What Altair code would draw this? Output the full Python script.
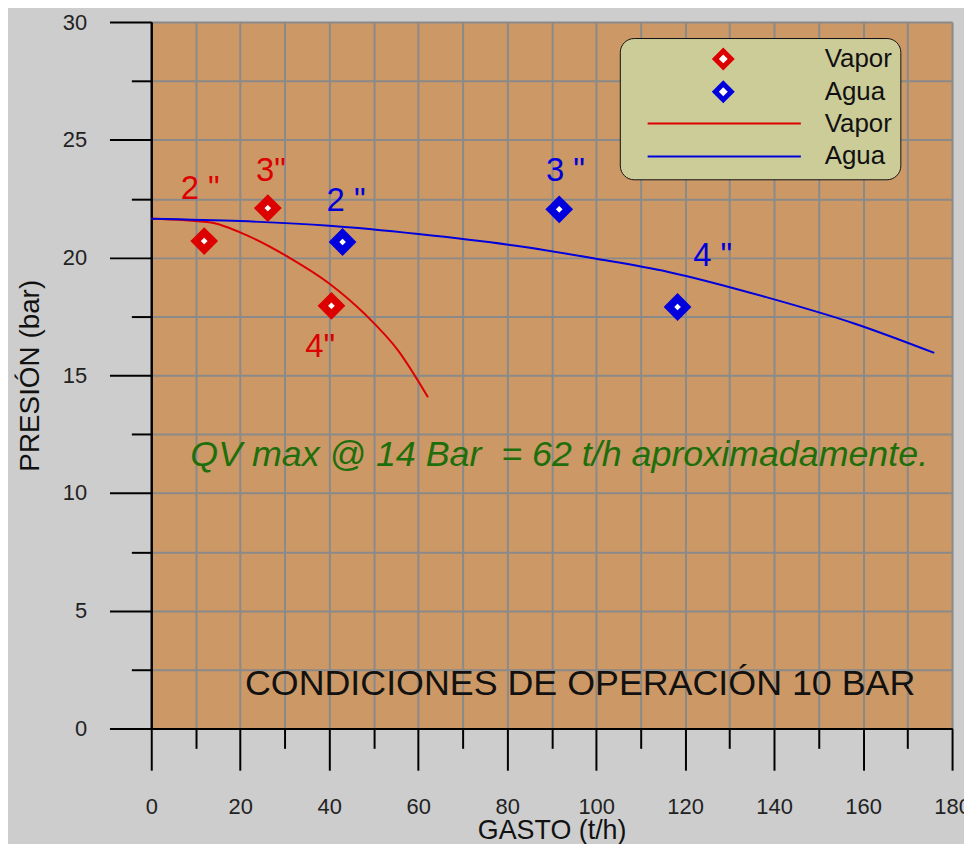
import altair as alt
import pandas as pd

# ---- data ----
vapor_curve_q = [0, 13, 22, 31, 40, 48, 55.5, 62.2]
vapor_curve_p = [21.65, 21.5, 20.9, 20.0, 18.9, 17.6, 16.05, 14.07]
agua_curve_q = [0, 20, 40, 60, 82, 100, 116, 138, 158, 176]
agua_curve_p = [21.65, 21.55, 21.35, 21.0, 20.5, 19.95, 19.4, 18.33, 17.2, 15.95]

vapor_pts_q = [11.9, 26.2, 40.5]
vapor_pts_p = [20.7, 22.1, 17.95]
agua_pts_q = [43.0, 91.7, 118.3]
agua_pts_p = [20.66, 22.05, 17.9]

vapor_lab_txt = ['2 "', '3"', '4"']
vapor_lab_q = [11.0, 26.9, 38.0]
vapor_lab_p = [22.9, 23.66, 16.18]
agua_lab_txt = ['2 "', '3 "', '4 "']
agua_lab_q = [43.8, 93.1, 126.2]
agua_lab_p = [22.39, 23.66, 20.07]

note_txt = ["QV max @ 14 Bar \u00a0= 62 t/h aproximadamente."]
note_q = [91.7]
note_p = [11.6]
cond_txt = ["CONDICIONES DE OPERACIÓN 10 BAR"]
cond_q = [96.4]
cond_p = [1.9]

x_major_ticks = list(range(0, 181, 20))
x_minor_ticks = list(range(10, 180, 20))
y_major_ticks = [0, 5, 10, 15, 20, 25, 30]
y_minor_ticks = [2.5, 7.5, 12.5, 17.5, 22.5, 27.5]

pts_domain = ["Vapor_pts", "Agua_pts"]
line_domain = ["Vapor_line", "Agua_line"]

# ---- tables ----
lines_df = pd.DataFrame({
    "Q": vapor_curve_q + agua_curve_q,
    "P": vapor_curve_p + agua_curve_p,
    "serie": ["Vapor_line"] * len(vapor_curve_q) + ["Agua_line"] * len(agua_curve_q),
})
pts_df = pd.DataFrame({
    "Q": vapor_pts_q + agua_pts_q,
    "P": vapor_pts_p + agua_pts_p,
    "serie": ["Vapor_pts"] * len(vapor_pts_q) + ["Agua_pts"] * len(agua_pts_q),
})
vlab_df = pd.DataFrame({"Q": vapor_lab_q, "P": vapor_lab_p, "txt": vapor_lab_txt})
alab_df = pd.DataFrame({"Q": agua_lab_q, "P": agua_lab_p, "txt": agua_lab_txt})
note_df = pd.DataFrame({"Q": note_q, "P": note_p, "txt": note_txt})
cond_df = pd.DataFrame({"Q": cond_q, "P": cond_p, "txt": cond_txt})

FONT = "Liberation Sans"
RED = "#dd0000"
BLUE = "#0000dd"
KHAKI = "#cccc99"

xscale = alt.Scale(domain=[0, 180], nice=False, zero=False)
yscale = alt.Scale(domain=[0, 30], nice=False, zero=False)

x_major = alt.Axis(values=x_major_ticks, orient="bottom", tickSize=42, labelPadding=27,
                   labelFlush=False, grid=True, title="GASTO (t/h)", titlePadding=0,
                   titleFontSize=27)
y_major = alt.Axis(values=y_major_ticks, orient="left", tickSize=42, labelPadding=23,
                   labelFlush=False, grid=True, title="PRESIÓN (bar)", titlePadding=18)
x_minor = alt.Axis(values=x_minor_ticks, orient="bottom", tickSize=20, labels=False,
                   grid=True, title=None)
y_minor = alt.Axis(values=y_minor_ticks, orient="left", tickSize=20, labels=False,
                   grid=True, title=None)

X = alt.X("Q:Q", scale=xscale, axis=x_major)
Y = alt.Y("P:Q", scale=yscale, axis=y_major)

# legend box (points legend; its blank bottom title makes room for the line legend)
legend_pts = alt.Legend(
    orient="none", legendX=471, legendY=16, zindex=1,
    title=" ", titleOrient="bottom", titleFontSize=58, titlePadding=9,
    fillColor=KHAKI, strokeColor="#111111", cornerRadius=14, padding=8,
    labelFont=FONT, labelFontSize=26, labelColor="#111111",
    labelExpr="split(datum.label, '_')[0] + '\u00a0\u00a0'",
    symbolType="diamond", symbolSize=256, symbolStrokeWidth=5, symbolFillColor="#ffffff",
    clipHeight=26, rowPadding=7, symbolOffset=83, labelOffset=89,
)
legend_lines = alt.Legend(
    orient="none", legendX=471, legendY=81, title=None, padding=8, zindex=2,
    labelFont=FONT, labelFontSize=26, labelColor="#111111",
    labelExpr="split(datum.label, '_')[0]",
    symbolType="stroke", symbolSize=23716, symbolStrokeWidth=2,
    clipHeight=26, rowPadding=7, symbolOffset=19, labelOffset=23,
)

lines = alt.Chart(lines_df).mark_line(strokeWidth=2, interpolate="monotone").encode(
    x=X, y=Y,
    stroke=alt.Stroke("serie:N", scale=alt.Scale(domain=line_domain, range=[RED, BLUE]),
                      legend=legend_lines),
)

points = alt.Chart(pts_df).mark_point(shape="diamond", filled=False, fill="#ffffff",
                                      fillOpacity=1, strokeWidth=7.5, size=300,
                                      opacity=1).encode(
    x=X, y=Y,
    color=alt.Color("serie:N", scale=alt.Scale(domain=pts_domain, range=[RED, BLUE]),
                    legend=legend_pts),
)

vtext = alt.Chart(vlab_df).mark_text(font=FONT, fontSize=33, color=RED).encode(
    x=X, y=Y, text="txt:N")
atext = alt.Chart(alab_df).mark_text(font=FONT, fontSize=33, color=BLUE).encode(
    x=X, y=Y, text="txt:N")
note = alt.Chart(note_df).mark_text(font=FONT, fontSize=36, fontStyle="italic",
                                    color="#1f6e0c").encode(x=X, y=Y, text="txt:N")
cond = alt.Chart(cond_df).mark_text(font=FONT, fontSize=36, color="#111111").encode(
    x=X, y=Y, text="txt:N")

inner = alt.layer(lines, points, vtext, atext, note, cond)

minor = alt.Chart(lines_df).mark_point(opacity=0).encode(
    x=alt.X("Q:Q", scale=xscale, axis=x_minor),
    y=alt.Y("P:Q", scale=yscale, axis=y_minor),
)

chart = alt.layer(inner, minor).resolve_scale(x="independent", y="independent").properties(
    width=805, height=710,
    autosize=alt.AutoSizeParams(type="none"),
    padding={"left": 144, "top": 12, "right": 12, "bottom": 114},
    background="#cdcdcd",
).configure_view(
    fill="#cc9966", stroke="transparent"
).configure_axis(
    domainColor="#000000", domainWidth=2, tickColor="#000000", tickWidth=2,
    gridColor="#8a8a8a", gridWidth=2, gridOpacity=1,
    labelFont=FONT, labelFontSize=22, labelColor="#222222",
    titleFont=FONT, titleFontSize=28, titleFontWeight="normal", titleColor="#111111",
)

chart.save("out.html", embed_options={"renderer": "svg", "actions": False})
